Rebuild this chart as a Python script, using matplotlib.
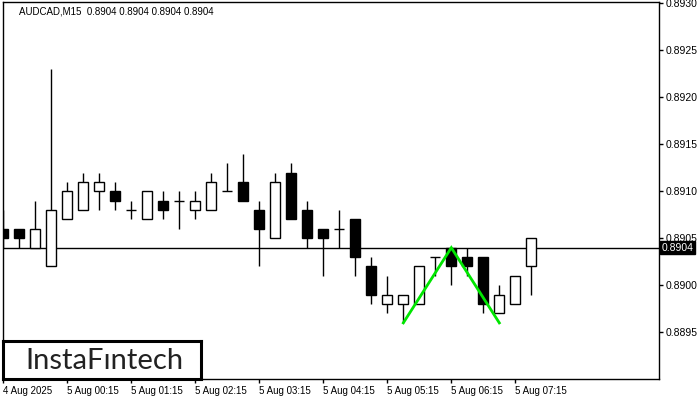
import matplotlib
matplotlib.use("Agg")
import matplotlib.pyplot as plt
from matplotlib.patches import Rectangle

plt.rcParams["font.family"] = ["Liberation Sans", "DejaVu Sans"]

# ---- data ----
opens  = [0.8906, 0.8906, 0.8904, 0.8902, 0.8907, 0.8908, 0.8910, 0.8910, 0.8908, 0.8907,
          0.8909, 0.8909, 0.8908, 0.8908, 0.8910, 0.8911, 0.8908, 0.8905, 0.8912, 0.8908,
          0.8906, 0.8906, 0.8907, 0.8902, 0.8898, 0.8898, 0.8898, 0.8903, 0.8904, 0.8903,
          0.8903, 0.8897, 0.8898, 0.8902]
highs  = [0.8908, 0.8906, 0.8909, 0.8923, 0.8911, 0.8912, 0.8912, 0.8911, 0.8909, 0.8910,
          0.8910, 0.8910, 0.8910, 0.8912, 0.8913, 0.8914, 0.8909, 0.8912, 0.8913, 0.8909,
          0.8906, 0.8908, 0.8907, 0.8903, 0.8901, 0.8899, 0.8902, 0.8903, 0.8904, 0.8904,
          0.8903, 0.8900, 0.8901, 0.8905]
lows   = [0.8904, 0.8904, 0.8904, 0.8902, 0.8907, 0.8908, 0.8908, 0.8908, 0.8907, 0.8907,
          0.8907, 0.8906, 0.8907, 0.8908, 0.8910, 0.8909, 0.8902, 0.8905, 0.8907, 0.8904,
          0.8901, 0.8904, 0.8901, 0.8898, 0.8897, 0.8896, 0.8898, 0.8901, 0.8900, 0.8901,
          0.8897, 0.8897, 0.8898, 0.8899]
closes = [0.8905, 0.8905, 0.8906, 0.8908, 0.8910, 0.8911, 0.8911, 0.8909, 0.8908, 0.8910,
          0.8908, 0.8909, 0.8909, 0.8911, 0.8910, 0.8909, 0.8906, 0.8911, 0.8907, 0.8905,
          0.8905, 0.8906, 0.8903, 0.8899, 0.8899, 0.8899, 0.8902, 0.8903, 0.8902, 0.8902,
          0.8898, 0.8899, 0.8901, 0.8905]
current_price = 0.8904
pattern_x = [25, 28, 31]
pattern_y = [0.8896, 0.8904, 0.8896]
xtick_pos = [0, 4, 8, 12, 16, 20, 24, 28, 32]
xtick_labels = ["4 Aug 2025", "5 Aug 00:15", "5 Aug 01:15", "5 Aug 02:15", "5 Aug 03:15",
                "5 Aug 04:15", "5 Aug 05:15", "5 Aug 06:15", "5 Aug 07:15"]
ytick_vals = [0.8895, 0.8900, 0.8905, 0.8910, 0.8915, 0.8920, 0.8925, 0.8930]
header = "AUDCAD,M15  0.8904 0.8904 0.8904 0.8904"

fig = plt.figure(figsize=(7, 4), dpi=100)
ax = fig.add_axes([3/700, 21/400, 656/700, 377/400])
ax.set_xlim(-0.02, 40.98)
ax.set_ylim(0.889003, 0.893014)

# current price line (behind candles)
ax.axhline(current_price, color="black", lw=1, zorder=1)

bw = 0.62
for i, (o, h, l, c) in enumerate(zip(opens, highs, lows, closes)):
    ax.vlines(i, l, h, color="black", lw=1, zorder=2)
    if o == c:
        ax.hlines(o, i - bw/2, i + bw/2, color="black", lw=1, zorder=3)
    else:
        bottom = min(o, c)
        height = abs(c - o)
        fc = "white" if c > o else "black"
        ax.add_patch(Rectangle((i - bw/2, bottom), bw, height, facecolor=fc,
                               edgecolor="black", lw=1, zorder=3))

ax.plot(pattern_x, pattern_y, color="#00e600", lw=2, zorder=5, solid_joinstyle="miter")

for s in ax.spines.values():
    s.set_color("black")
    s.set_linewidth(1)

ax.yaxis.tick_right()
ax.set_yticks(ytick_vals)
ax.set_yticklabels([f"{v:.4f}" for v in ytick_vals])
ax.tick_params(axis="y", direction="out", length=3, width=1, pad=1.5, labelsize=7.5)

ax.set_xticks(xtick_pos)
ax.set_xticklabels(xtick_labels, ha="left")
ax.tick_params(axis="x", direction="out", length=3, width=1, pad=2, labelsize=7)

# price label box
ax.text(1.004, current_price, f"{current_price:.4f}", transform=ax.get_yaxis_transform(),
        ha="left", va="center", fontsize=7.5, color="white", zorder=10,
        bbox=dict(boxstyle="square,pad=0.12", facecolor="black", edgecolor="black"),
        clip_on=False)

fig.text(19/700, 1 - 11/400, header, fontsize=7, ha="left", va="center", color="black")

# logo box
logo_ax = fig.add_axes([3/700, 21/400, 198/700, 38/400])
logo_ax.set_xticks([]); logo_ax.set_yticks([])
for s in logo_ax.spines.values():
    s.set_linewidth(2.2)
    s.set_color("black")
logo_ax.text(0.51, 0.47, "InstaFıntech", fontsize=21, family="Lato", color="#222222",
             ha="center", va="center", transform=logo_ax.transAxes)

fig.savefig("out.png", dpi=100)
